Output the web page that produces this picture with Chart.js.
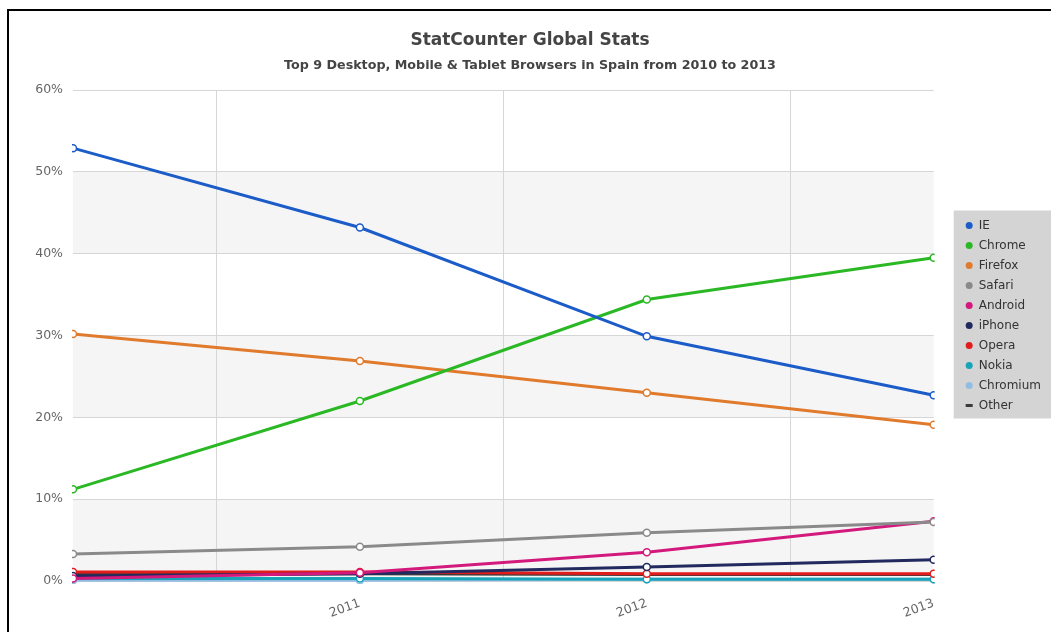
<!DOCTYPE html>
<html>
<head>
<meta charset="utf-8">
<script src="https://cdn.jsdelivr.net/npm/chart.js@4"></script>
<style>
  html, body { margin: 0; padding: 0; background: #fff; }
  #frame {
    position: absolute; left: 7px; top: 9px;
    width: 1042px; height: 621px;
    border-left: 2px solid #000; border-top: 2px solid #000;
  }
</style>
</head>
<body>
<div id="frame"><canvas id="myChart" width="1042" height="621"></canvas></div>
<script>
const years = ["2010", "2011", "2012", "2013"];
const xTickLabels = ["", "2011", "2012", "2013"];
const yTicks = [0, 10, 20, 30, 40, 50, 60];

const browsers = ["IE", "Chrome", "Firefox", "Safari", "Android", "iPhone", "Opera", "Nokia", "Chromium", "Other"];
const colors = ["#1b5cc8", "#2bb825", "#e07a2c", "#8a8a8a", "#d3197c", "#22295f", "#e21b1b", "#17a3b8", "#92bde3", "#3a3a3a"];

const ie = [52.9, 43.2, 29.9, 22.7];
const chrome = [11.2, 22.0, 34.4, 39.5];
const firefox = [30.2, 26.9, 23.0, 19.1];
const safari = [3.3, 4.2, 5.9, 7.2];
const android = [0.3, 1.0, 3.5, 7.3];
const iphone = [0.6, 0.9, 1.7, 2.6];
const opera = [1.1, 1.1, 0.9, 0.9];
const nokia = [0.3, 0.3, 0.2, 0.2];
const chromium = [0.1, 0.1, 0.2, 0.2];
const other = [0.9, 0.9, 0.8, 0.8];

const series = [ie, chrome, firefox, safari, android, iphone, opera, nokia, chromium, other];

// grey bands + legend box background
const backdrop = {
    id: "backdrop",
    beforeDraw(chart) {
        const ctx = chart.ctx;
        const area = chart.chartArea;
        const y = chart.scales.y;
        ctx.save();
        ctx.fillStyle = "#fff";
        ctx.fillRect(0, 0, chart.width, chart.height);
        ctx.fillStyle = "#f5f5f5";
        for (let i = 0; i < yTicks.length - 1; i++) {
            if (i % 2 === 0) {
                const top = y.getPixelForValue(yTicks[i + 1]);
                const bottom = y.getPixelForValue(yTicks[i]);
                ctx.fillRect(area.left, top, area.right - area.left, bottom - top);
            }
        }
        const lg = chart.legend;
        if (lg && lg.legendHitBoxes.length) {
            const boxes = lg.legendHitBoxes;
            const top = boxes[0].top - 9;
            const bottom = boxes[boxes.length - 1].top + boxes[boxes.length - 1].height + 7;
            ctx.fillStyle = "#d4d4d4";
            ctx.fillRect(lg.left - 4, top, chart.width - lg.left + 4, bottom - top);
        }
        ctx.restore();
    }
};

const datasets = browsers.map((name, i) => ({
    label: name,
    data: series[i],
    borderColor: colors[i],
    backgroundColor: colors[i],
    borderWidth: 3,
    pointRadius: name === "Other" ? 0 : 3.5,
    pointBorderWidth: 1.5,
    pointBackgroundColor: "#fff",
    pointBorderColor: colors[i],
    pointStyle: name === "Other" ? "line" : "circle",
    tension: 0,
    clip: { left: 1, right: 1, top: false, bottom: 3 }
}));

const ctx = document.getElementById("myChart");
const myChart = new Chart(ctx, {
    type: "line",
    data: { labels: years, datasets: datasets },
    plugins: [backdrop],
    options: {
        responsive: false,
        animation: false,
        events: [],
        layout: { padding: { bottom: 12 } },
        plugins: {
            title: {
                display: true,
                text: "StatCounter Global Stats",
                color: "#444",
                font: { family: "DejaVu Sans", size: 17, weight: "bold" },
                padding: { top: 19, bottom: 6 }
            },
            subtitle: {
                display: true,
                text: "Top 9 Desktop, Mobile & Tablet Browsers in Spain from 2010 to 2013",
                color: "#444",
                font: { family: "DejaVu Sans", size: 12.7, weight: "bold" },
                padding: { top: 2, bottom: 16.4 }
            },
            legend: {
                position: "right",
                labels: {
                    usePointStyle: true,
                    pointStyleWidth: 7,
                    boxHeight: 5,
                    padding: 8,
                    color: "#333",
                    font: { family: "DejaVu Sans", size: 12 },
                    generateLabels(chart) {
                        return chart.data.datasets.map((ds, i) => ({
                            text: ds.label,
                            fillStyle: ds.borderColor,
                            strokeStyle: ds.borderColor,
                            lineWidth: ds.label === "Other" ? 3 : 0,
                            pointStyle: ds.label === "Other" ? "line" : "circle",
                            fontColor: "#333",
                            datasetIndex: i,
                            hidden: false
                        }));
                    }
                }
            },
            tooltip: { enabled: false }
        },
        scales: {
            x: {
                offset: false,
                grid: { offset: true, color: "#d6d6d6", drawTicks: false },
                border: { display: false },
                ticks: {
                    color: "#666",
                    font: { family: "DejaVu Sans", size: 12.5 },
                    minRotation: 20,
                    maxRotation: 20,
                    padding: 15,
                    callback: (v, i) => xTickLabels[i]
                },
                afterFit: (s) => { s.height = 39; }
            },
            y: {
                min: 0,
                max: 60,
                grid: { color: "#d6d6d6", drawTicks: false },
                border: { display: false },
                ticks: {
                    stepSize: 10,
                    color: "#666",
                    font: { family: "DejaVu Sans", size: 12.5 },
                    padding: 10,
                    callback: (v) => v + "%"
                },
                afterFit: (s) => { s.width = 64; }
            },
            gap: {
                type: "linear",
                position: "right",
                display: true,
                grid: { display: false },
                border: { display: false },
                ticks: { display: false },
                afterFit: (s) => { s.width = 24; }
            }
        }
    }
});
</script>
</body>
</html>
